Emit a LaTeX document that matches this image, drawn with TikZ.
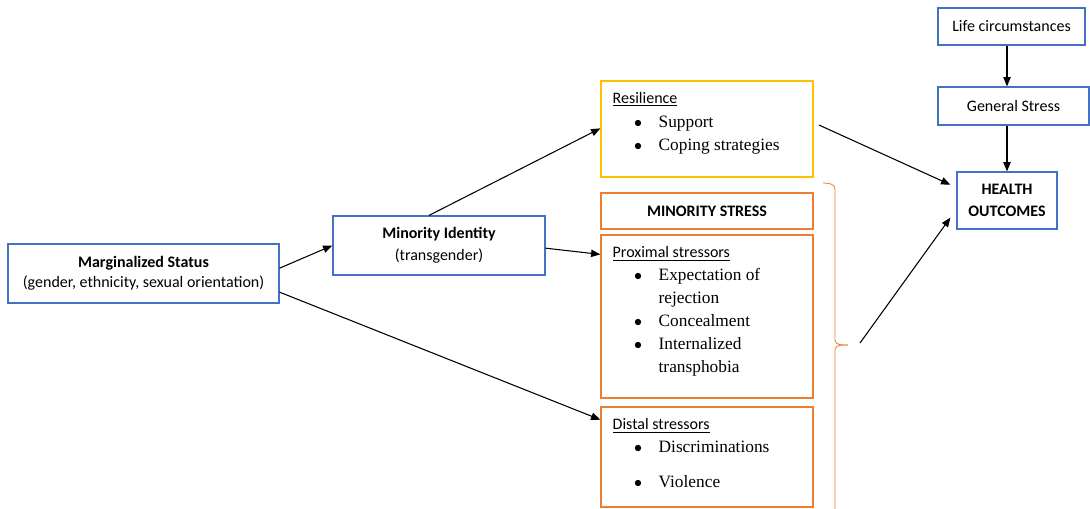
\documentclass[tikz,border=0pt]{standalone}
\usepackage{fontspec}
\setmainfont{Carlito}
\newfontfamily\serifitems{Liberation Serif}
\usepackage{xcolor}
\usepackage{tikz}
\usetikzlibrary{arrows.meta}
\definecolor{boxblue}{HTML}{4472C4}
\definecolor{boxorange}{HTML}{ED7D31}
\definecolor{boxyellow}{HTML}{FFC000}
\newcommand{\listhead}[1]{{\rmfamily\fontsize{12}{17}\selectfont\underline{#1}}}
\newcommand{\bul}{\hspace*{16pt}\makebox[18.5pt][l]{$\bullet$}}
\newcommand{\cont}{\hspace*{34.5pt}}
\tikzset{
    box/.style = {rectangle, draw, line width=0.9pt, inner sep=0pt, align=center},
    blue_box/.style = {box, draw=boxblue},
    yellow_box/.style = {box, draw=boxyellow},
    orange_box/.style = {box, draw=boxorange},
    list_text/.style = {anchor=north west, inner sep=0pt, align=left, font=\serifitems\fontsize{13}{17.2}\selectfont},
    link/.style = {->, line width=0.8pt}
}
\begin{document}
\begin{tikzpicture}[x=0.75pt, y=-0.75pt, >={Triangle[length=7pt,width=5.5pt]}]
    \useasboundingbox (0,0) rectangle (1090,508);
    % left side
    \node[blue_box, minimum width=203.25pt, minimum height=44.25pt, font=\fontsize{12}{15}\selectfont] (marg) at (143.5,273.5)
        {\textbf{Marginalized Status}\\(gender, ethnicity, sexual orientation)};
    \node[blue_box, minimum width=159pt, minimum height=44.25pt, font=\fontsize{12}{16.5}\selectfont] (minid) at (439,245.5)
        {\textbf{Minority Identity}\\(transgender)};
    % middle column
    \node[yellow_box, minimum width=159pt, minimum height=72pt] (res) at (707,129) {};
    \node[list_text, font=\serifitems\fontsize{13}{17.6}\selectfont] (res_txt) at ([xshift=9pt,yshift=-9pt]res.north west)
        {\listhead{Resilience}\\ \bul Support\\ \bul Coping strategies};
    \node[orange_box, minimum width=159pt, minimum height=27pt, font=\bfseries\fontsize{12}{15}\selectfont] (mstress) at (707,211) {MINORITY STRESS};
    \node[orange_box, minimum width=159pt, minimum height=122.25pt] (prox) at (707,316.5) {};
    \node[list_text] (prox_txt) at ([xshift=9pt,yshift=-9pt]prox.north west)
        {\listhead{Proximal stressors}\\ \bul Expectation of\\ \cont rejection\\ \bul Concealment\\ \bul Internalized\\ \cont transphobia};
    \node[orange_box, minimum width=159pt, minimum height=75pt] (dist) at (707,457) {};
    \node[list_text] (dist_txt) at ([xshift=9pt,yshift=-9pt]dist.north west)
        {\listhead{Distal stressors}\\ \bul Discriminations\\[9pt] \bul Violence};
    % brace
    \coordinate (brace_tip) at (848,345);
    \draw[boxorange, line width=0.6pt] (823,183) to[out=0,in=90] (835,189) -- (835,340) to[out=-90,in=180] (brace_tip);
    \draw[boxorange, line width=0.6pt] (brace_tip) to[out=180,in=90] (835,350) -- (835,512);
    % right side
    \node[blue_box, minimum width=110.25pt, minimum height=27.75pt, font=\fontsize{12}{15}\selectfont] (life) at (1011.5,26.5) {Life circumstances};
    \node[blue_box, minimum width=113.25pt, minimum height=28.5pt, font=\fontsize{12}{15}\selectfont] (gen) at (1013.5,106) {General Stress};
    \node[blue_box, minimum width=75pt, minimum height=42.75pt, font=\bfseries\fontsize{12}{16.5}\selectfont] (health) at (1007,200.5) {HEALTH\\OUTCOMES};
    % arrows
    \draw[link] ([yshift=4pt]marg.east) -- (minid.west);
    \draw[link] ([yshift=-14pt]marg.east) -- ([yshift=-10pt]dist.north west);
    \draw[link] ([xshift=-7.5pt]minid.north) -- ([yshift=0.5pt]res.west);
    \draw[link] ([yshift=-2pt]minid.east) -- ([yshift=-15pt]prox.north west);
    \draw[link] ([xshift=4pt,yshift=3pt]res.east) -- ([xshift=-4.5pt,yshift=-10pt]health.north west);
    \draw[link] ([xshift=9pt,yshift=1.5pt]brace_tip) -- ([xshift=-4.5pt,yshift=9pt]health.south west);
    \draw[link] (life.south -| health) -- (gen.north -| health);
    \draw[link] (gen.south -| health) -- (health.north);
\end{tikzpicture}
\end{document}
